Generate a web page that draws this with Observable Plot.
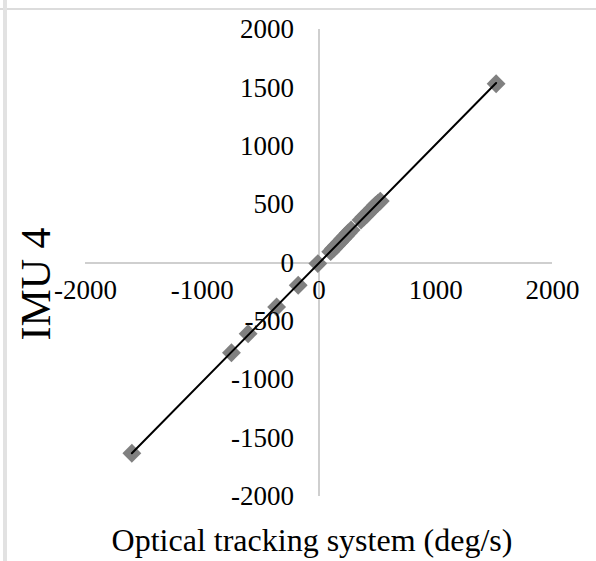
<!DOCTYPE html>
<html>
<head>
<meta charset="utf-8">
<script src="https://cdn.jsdelivr.net/npm/d3@7"></script>
<script src="https://cdn.jsdelivr.net/npm/@observablehq/plot@0.6"></script>
<style>
  html, body { margin: 0; padding: 0; background: #fff; }
  #wrap { position: relative; width: 596px; height: 561px; overflow: hidden; font-family: "Liberation Serif", "Times New Roman", serif; }
  #frameTop { position: absolute; left: 0; top: 8px; width: 596px; height: 2px; background: #dcdcdc; }
  #frameLeft { position: absolute; left: 3px; top: 0; width: 4px; height: 561px; background: #e2e2e2; }
  #chart { position: absolute; left: 0; top: 0; }
  #chart svg, #chart svg text { font-family: "Liberation Serif", "Times New Roman", serif !important; }
  #xtitle { position: absolute; left: 0; width: 624px; top: 522px; text-align: center; font-size: 32px; color: #000; white-space: nowrap; line-height: 36px; }
  #ytitle { position: absolute; left: 36px; top: 284px; transform: translate(-50%, -50%) rotate(-90deg); font-size: 42px; color: #000; white-space: nowrap; line-height: 42px; }
</style>
</head>
<body>
<div id="wrap">
  <div id="frameTop"></div>
  <div id="frameLeft"></div>
  <div id="chart"></div>
  <div id="xtitle">Optical tracking system (deg/s)</div>
  <div id="ytitle">IMU 4</div>
</div>
<script>
// Data (deg/s)
const opticalValues = [-1603, -750, -607, -363, -178, -10, 100, 125, 150, 175, 200, 225, 250, 275, 360, 385, 410, 435, 460, 485, 505, 525, 1517];
const imuValues     = [-1630, -769, -606, -377, -191, -5, 97, 124, 150, 176, 203, 230, 257, 283, 368, 393, 418, 444, 470, 496, 513, 530, 1535];
const xTickLabels = [-2000, -1000, 0, 1000, 2000];
const yTickLabels = [-2000, -1500, -1000, -500, 0, 500, 1000, 1500, 2000];

const points = opticalValues.map((x, i) => ({x, y: imuValues[i]}));

const chart = Plot.plot({
  width: 596,
  height: 561,
  marginLeft: 85,
  marginRight: 44,
  marginTop: 29,
  marginBottom: 65,
  x: {domain: [-2000, 2000], axis: null},
  y: {domain: [-2000, 2000], axis: null},
  style: {background: "transparent"},
  marks: [
    Plot.ruleY([0], {x1: -2000, x2: 2000, stroke: "#bfbfbf", strokeWidth: 1.5}),
    Plot.ruleX([0], {y1: -2000, y2: 2000, stroke: "#bfbfbf", strokeWidth: 1.5}),
    Plot.dot(points, {x: "x", y: "y", symbol: "diamond2", r: 8.5, fill: "#808080", stroke: "none"}),
    Plot.linearRegressionY(points, {x: "x", y: "y", ci: 0, stroke: "#000", strokeWidth: 2}),
    Plot.text(xTickLabels, {x: d => d, y: 0, dy: 27, text: d => String(d), fontSize: 27, fill: "#000", textAnchor: "middle"}),
    Plot.text(yTickLabels, {x: 0, y: d => d, dx: -25, text: d => String(d), fontSize: 27, fill: "#000", textAnchor: "end"})
  ]
});
document.getElementById("chart").appendChild(chart);
</script>
</body>
</html>
